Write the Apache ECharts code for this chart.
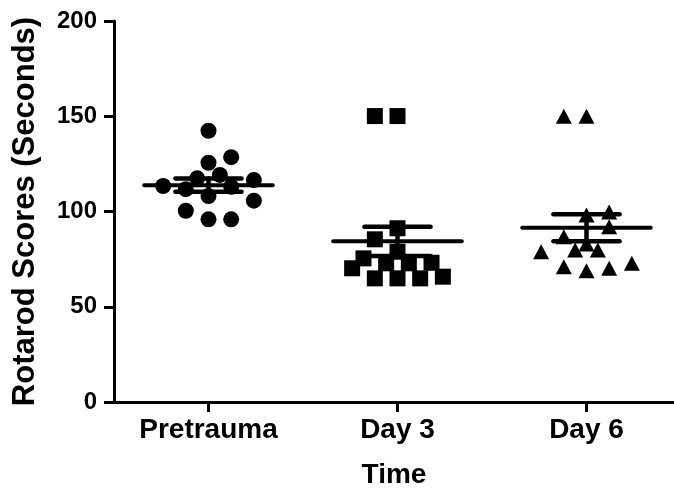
<!DOCTYPE html>
<html>
<head>
<meta charset="utf-8">
<script src="https://cdn.jsdelivr.net/npm/echarts@6/dist/echarts.min.js"></script>
<style>
  html, body { margin: 0; padding: 0; background: #fff; }
  #chart { width: 674px; height: 498px; }
</style>
</head>
<body>
<div id="chart"></div>
<script>
// Groups along the time axis
const categories = ['Pretrauma', 'Day 3', 'Day 6'];

// Individual rotarod scores (seconds) per group
const pretraumaScores = [142.4, 125.6, 128.5, 117.4, 119.2, 113.4, 116.5, 111.7, 108.1, 105.7, 100.4, 95.9, 95.9, 113.0];
const day3Scores      = [150.1, 150.1, 91.2, 85.4, 78.9, 75.4, 70.2, 72.8, 72.8, 73.1, 64.9, 64.9, 64.9, 65.8];
const day6Scores      = [150.0, 150.0, 99.7, 98.2, 92.0, 86.8, 82.9, 79.8, 79.8, 78.9, 71.0, 68.9, 70.2, 72.8];

// Horizontal spread of each point within its column (in category units)
const pretraumaSpread = [0, 0, 0.12, -0.06, 0.06, -0.24, 0.24, -0.12, 0, 0.24, -0.12, 0, 0.12, 0.12];
const day3Spread      = [-0.12, 0, 0, -0.12, 0, -0.18, -0.24, -0.06, 0.06, 0.18, -0.12, 0, 0.12, 0.24];
const day6Spread      = [-0.12, 0, 0.12, 0, 0.12, -0.12, 0, -0.06, 0.06, -0.24, -0.12, 0, 0.12, 0.24];

// Y axis ticks
const yTicks = [0, 50, 100, 150, 200];

const FONT = '"Liberation Sans", Arial, Helvetica, sans-serif';

function toPoints(scores, spread, pos) {
  return scores.map((v, i) => [pos + spread[i], v]);
}

// Mean and standard error of the mean
function meanSem(scores) {
  const n = scores.length;
  const mean = scores.reduce((a, b) => a + b, 0) / n;
  const sd = Math.sqrt(scores.reduce((a, b) => a + (b - mean) * (b - mean), 0) / (n - 1));
  const sem = sd / Math.sqrt(n);
  return { mean, lo: mean - sem, hi: mean + sem };
}

const groups = [pretraumaScores, day3Scores, day6Scores];
const summary = groups.map((g, i) => {
  const s = meanSem(g);
  return [i + 1, s.mean, s.lo, s.hi];
});

const chart = echarts.init(document.getElementById('chart'), null, { renderer: 'canvas' });

const markerStyle = { color: '#000', opacity: 1 };

chart.setOption({
  backgroundColor: '#fff',
  animation: false,
  grid: { left: 114, right: 0, top: 21, bottom: 96 },
  xAxis: {
    type: 'value',
    // the axis runs on past the last column to the edge of the canvas
    min: 0.5,
    max: 3.463,
    name: 'Time',
    nameLocation: 'middle',
    nameGap: 59,
    nameTextStyle: { fontFamily: FONT, fontSize: 28, fontWeight: 'bold', color: '#000', padding: [0, 0, 0, 0] },
    axisLine: { show: true, onZero: false, lineStyle: { color: '#000', width: 3 } },
    axisTick: { show: true, length: 10, customValues: [1, 2, 3], lineStyle: { color: '#000', width: 3 } },
    axisLabel: {
      show: true,
      customValues: [1, 2, 3],
      margin: 14,
      fontFamily: FONT, fontSize: 28, fontWeight: 'bold', color: '#000',
      formatter: v => categories[Math.round(v) - 1] || ''
    },
    splitLine: { show: false }
  },
  yAxis: {
    type: 'value',
    min: yTicks[0],
    max: yTicks[yTicks.length - 1],
    interval: 50,
    name: 'Rotarod Scores (Seconds)',
    nameLocation: 'middle',
    nameGap: 73,
    nameRotate: 90,
    nameTextStyle: { fontFamily: FONT, fontSize: 31, fontWeight: 'bold', color: '#000' },
    axisLine: { show: true, lineStyle: { color: '#000', width: 3 } },
    axisTick: { show: true, length: 10, lineStyle: { color: '#000', width: 3 } },
    axisLabel: { margin: 17, fontFamily: FONT, fontSize: 24, fontWeight: 'bold', color: '#000' },
    splitLine: { show: false }
  },
  series: [
    {
      type: 'scatter', symbol: 'circle', symbolSize: 16,
      itemStyle: markerStyle,
      data: toPoints(pretraumaScores, pretraumaSpread, 1)
    },
    {
      type: 'scatter', symbol: 'rect', symbolSize: 16,
      itemStyle: markerStyle,
      data: toPoints(day3Scores, day3Spread, 2)
    },
    {
      type: 'scatter', symbol: 'triangle', symbolSize: [16, 15],
      itemStyle: markerStyle,
      data: toPoints(day6Scores, day6Spread, 3)
    },
    {
      // Mean line with SEM whiskers for each column
      type: 'custom',
      z: 10,
      data: summary,
      renderItem: function (params, api) {
        const x = api.value(0);
        const mean = api.value(1);
        const lo = api.value(2);
        const hi = api.value(3);
        const mL = api.coord([x - 0.34, mean]);
        const mR = api.coord([x + 0.34, mean]);
        const top = api.coord([x, hi]);
        const bot = api.coord([x, lo]);
        const cw = api.size([0.175, 0])[0];
        const style = { stroke: '#000', lineWidth: 4.5, lineCap: 'round' };
        return {
          type: 'group',
          children: [
            { type: 'line', shape: { x1: mL[0], y1: mL[1], x2: mR[0], y2: mR[1] }, style: Object.assign({}, style, { lineWidth: 4 }) },
            { type: 'line', shape: { x1: top[0], y1: top[1], x2: bot[0], y2: bot[1] }, style },
            { type: 'line', shape: { x1: top[0] - cw, y1: top[1], x2: top[0] + cw, y2: top[1] }, style },
            { type: 'line', shape: { x1: bot[0] - cw, y1: bot[1], x2: bot[0] + cw, y2: bot[1] }, style }
          ]
        };
      }
    }
  ]
});
</script>
</body>
</html>
